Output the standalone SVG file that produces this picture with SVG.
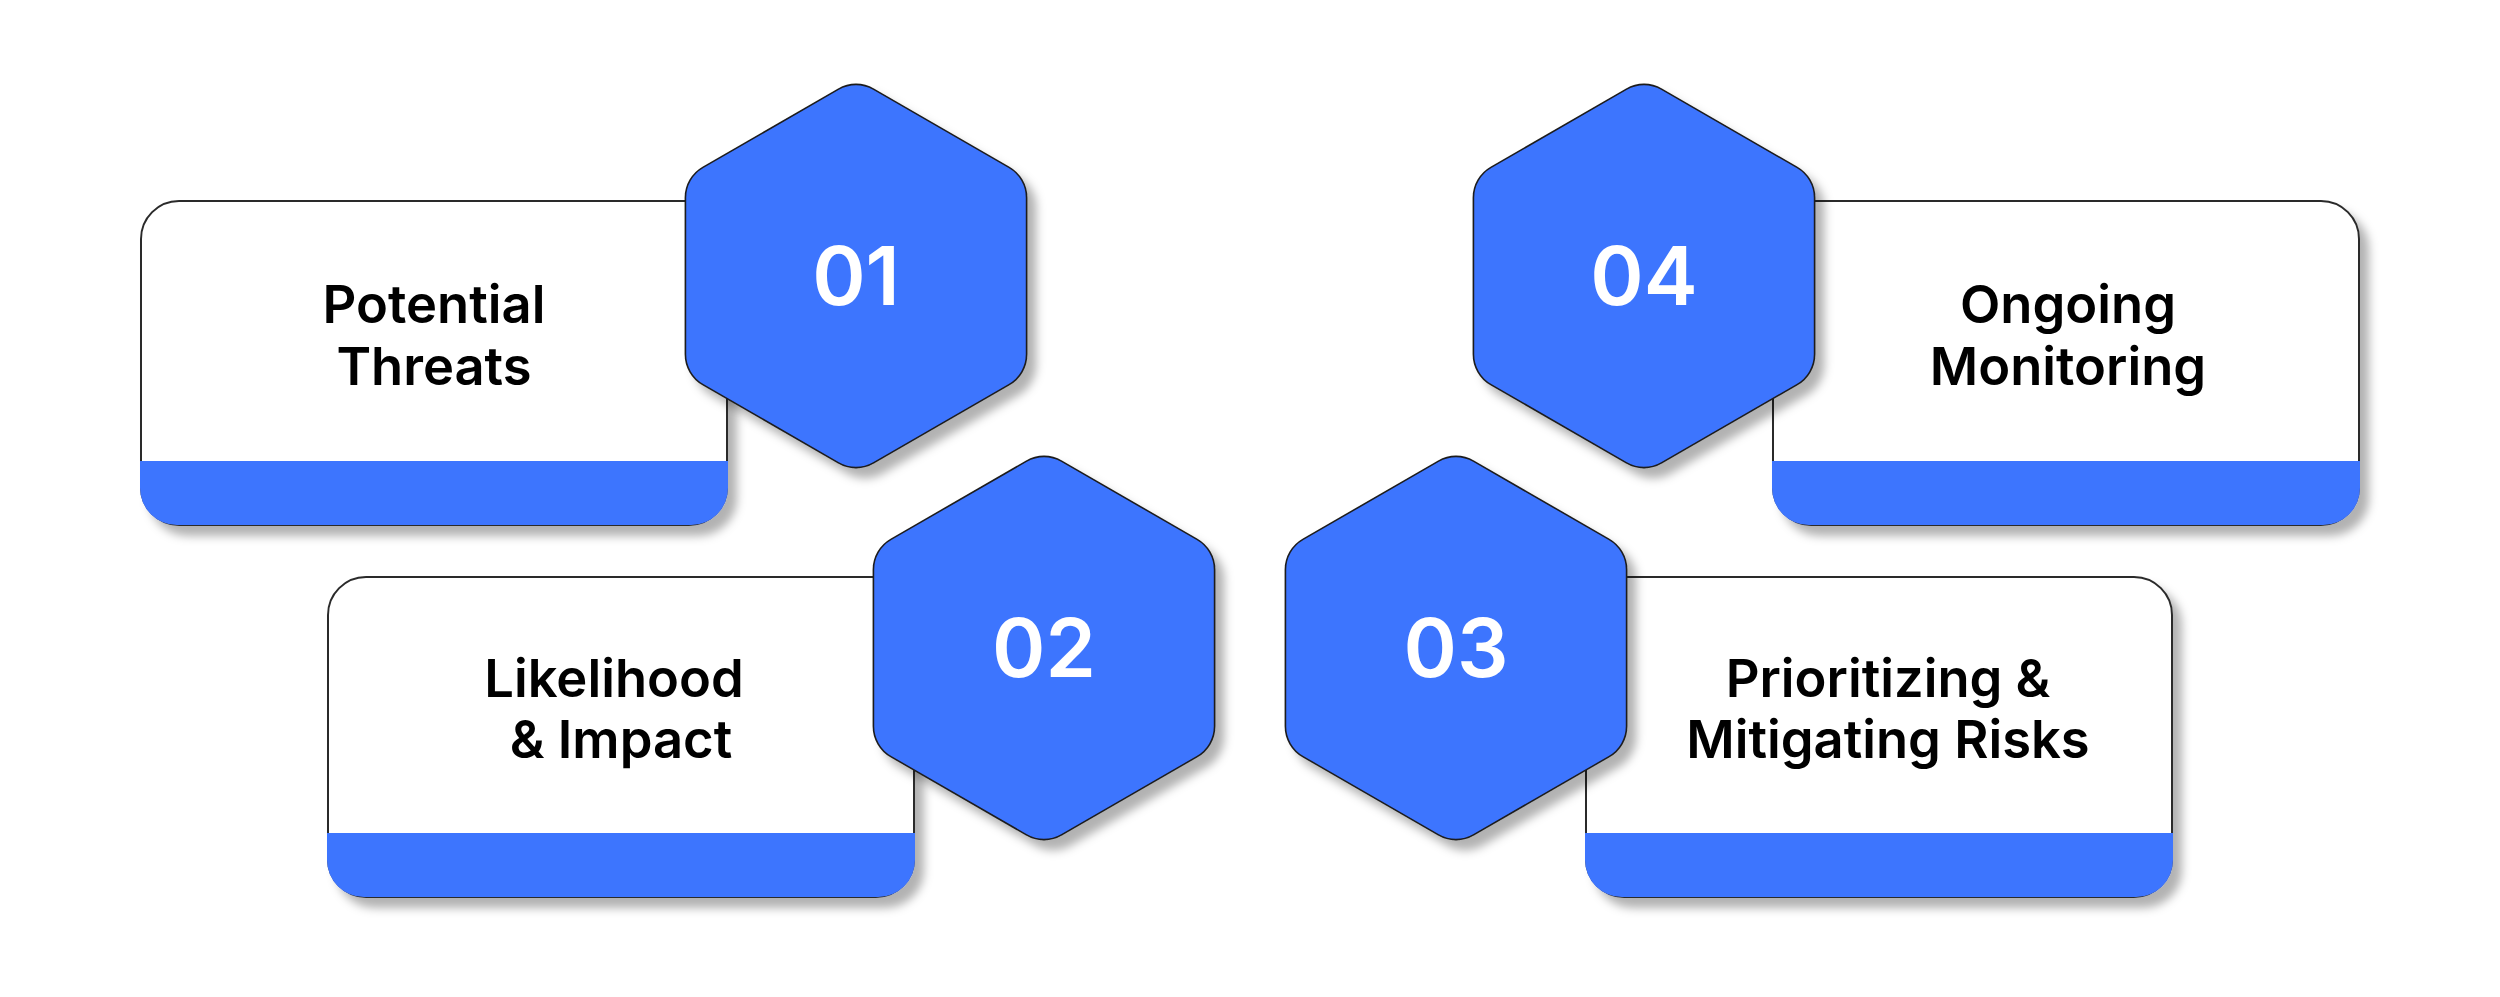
<svg xmlns="http://www.w3.org/2000/svg" xmlns:xlink="http://www.w3.org/1999/xlink" width="2500" height="997" viewBox="0 0 2500 997">
  <defs>
    <filter id="shadow" x="-10%" y="-10%" width="125%" height="130%">
      <feDropShadow dx="9" dy="10" stdDeviation="5" flood-color="#000" flood-opacity="0.3"/>
    </filter>
    <path id="hex" d="M -17.5,-186.9 A 35 35 0 0 1 17.5,-186.9 L 153.1,-108.6 A 35 35 0 0 1 170.6,-78.3 L 170.6,78.3 A 35 35 0 0 1 153.1,108.6 L 17.5,186.9 A 35 35 0 0 1 -17.5,186.9 L -153.1,108.6 A 35 35 0 0 1 -170.6,78.3 L -170.6,-78.3 A 35 35 0 0 1 -153.1,-108.6 Z"/>
    <path id="card" d="M 0,38 A 38 38 0 0 1 38,0 H 548 A 38 38 0 0 1 586,38 V 286 A 38 38 0 0 1 548,324 H 38 A 38 38 0 0 1 0,286 Z"/>
    <path id="band" d="M -1,260 H 587 V 287 A 37 37 0 0 1 550,324 H 36 A 37 37 0 0 1 -1,287 Z"/>
    <path id="card2" d="M 0,38 A 38 38 0 0 1 38,0 H 548 A 38 38 0 0 1 586,38 V 282 A 38 38 0 0 1 548,320 H 38 A 38 38 0 0 1 0,282 Z"/>
    <path id="band2" d="M -1,256 H 587 V 283 A 37 37 0 0 1 550,320 H 36 A 37 37 0 0 1 -1,283 Z"/>
  </defs>
  <style>
    .card { fill: #ffffff; stroke: #2b2b2b; stroke-width: 2; }
    .band { fill: #3e74fe; }
    .hex { fill: #3e74fe; stroke: #1c1c1c; stroke-width: 1.6; }
    .label { font-family: Inter, "Liberation Sans", sans-serif; font-weight: 600; font-size: 52.5px; fill: #000; text-anchor: middle; }
    .num { font-family: Inter, "Liberation Sans", sans-serif; font-weight: 600; font-size: 81px; fill: #ffffff; text-anchor: middle; }
  </style>
  <rect width="2500" height="997" fill="#ffffff"/>
  <g id="connectors"/>

  <g id="step-01">
    <g transform="translate(141,201)" filter="url(#shadow)">
      <use xlink:href="#card" class="card"/>
      <use xlink:href="#band" class="band"/>
    </g>
    <text class="label" x="434" y="323">Potential</text>
    <text class="label" x="434" y="385">Threats</text>
    <g transform="translate(856,276)">
      <use xlink:href="#hex" class="hex" filter="url(#shadow)"/>
      <text class="num" x="0" y="29">01</text>
    </g>
  </g>

  <g id="step-02">
    <g transform="translate(328,577)" filter="url(#shadow)">
      <use xlink:href="#card2" class="card"/>
      <use xlink:href="#band2" class="band"/>
    </g>
    <text class="label" x="614" y="697">Likelihood</text>
    <text class="label" x="621" y="758">&amp; Impact</text>
    <g transform="translate(1044,648)">
      <use xlink:href="#hex" class="hex" filter="url(#shadow)"/>
      <text class="num" x="0" y="29">02</text>
    </g>
  </g>

  <g id="step-03">
    <g transform="translate(1586,577)" filter="url(#shadow)">
      <use xlink:href="#card2" class="card"/>
      <use xlink:href="#band2" class="band"/>
    </g>
    <text class="label" x="1888" y="697">Prioritizing &amp;</text>
    <text class="label" x="1888" y="758">Mitigating Risks</text>
    <g transform="translate(1456,648)">
      <use xlink:href="#hex" class="hex" filter="url(#shadow)"/>
      <text class="num" x="0" y="29">03</text>
    </g>
  </g>

  <g id="step-04">
    <g transform="translate(1773,201)" filter="url(#shadow)">
      <use xlink:href="#card" class="card"/>
      <use xlink:href="#band" class="band"/>
    </g>
    <text class="label" x="2068" y="323">Ongoing</text>
    <text class="label" x="2068" y="385">Monitoring</text>
    <g transform="translate(1644,276)">
      <use xlink:href="#hex" class="hex" filter="url(#shadow)"/>
      <text class="num" x="0" y="29">04</text>
    </g>
  </g>
</svg>
